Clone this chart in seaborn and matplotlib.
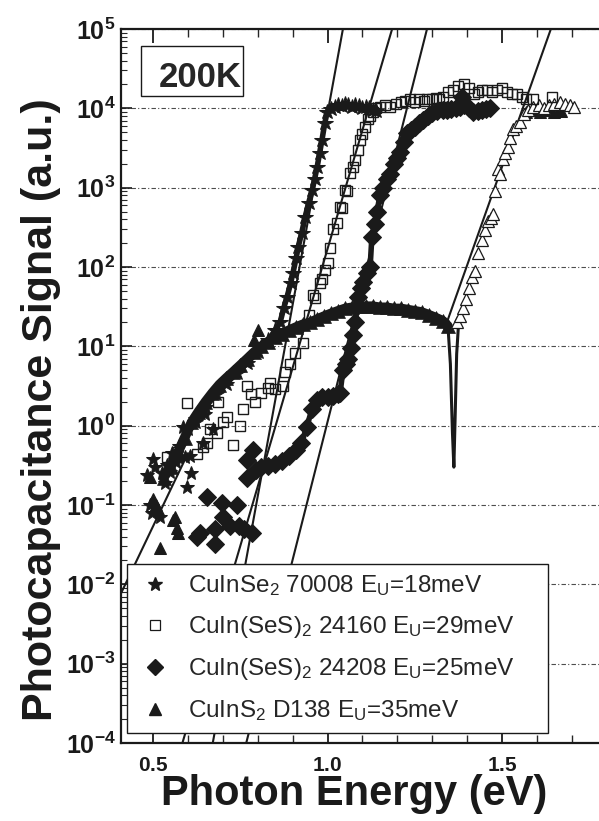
import numpy as np
import pandas as pd
import matplotlib
matplotlib.use("Agg")
import matplotlib.pyplot as plt
from matplotlib.lines import Line2D
from matplotlib.patches import Rectangle
from matplotlib.ticker import (MultipleLocator, LogLocator, FixedLocator, FuncFormatter,
                               NullFormatter)
import seaborn as sns

# ---------------- data ----------------
# CuInSe2 70008 (stars): scattered sub-gap points and the dense absorption edge
se_tail_E = [0.483, 0.490, 0.497, 0.500, 0.505, 0.520, 0.525, 0.534, 0.540, 0.549, 0.555, 0.565,
             0.575, 0.586, 0.590, 0.597, 0.600, 0.606, 0.610, 0.620, 0.643, 0.650, 0.672]
se_tail_S = [0.24, 0.10, 0.08, 0.38, 0.30, 0.07, 0.25, 0.19, 0.32, 0.26, 0.45, 0.35,
             0.55, 0.97, 0.40, 0.17, 0.90, 0.42, 0.25, 1.2, 0.60, 1.4, 0.90]
se_edge_E = [0.62, 0.65, 0.68, 0.71, 0.74, 0.77, 0.80, 0.83, 0.85, 0.864, 0.874, 0.884, 0.894,
             0.901, 0.910, 0.916, 0.926, 0.936, 0.946, 0.956, 0.963, 0.970, 0.977, 0.984, 0.992,
             0.999, 1.01, 1.02, 1.03, 1.04, 1.05, 1.06, 1.07, 1.08, 1.09, 1.10, 1.11, 1.12, 1.13, 1.14]
se_edge_S = [1.1, 1.7, 2.5, 3.4, 4.6, 6.2, 8.5, 12, 16, 20, 30, 42, 62,
             85, 130, 180, 270, 430, 650, 930, 1300, 1800, 2700, 4000, 6500,
             9000, 9800, 1.05e4, 1.1e4, 1.08e4, 1.12e4, 1.1e4, 1.05e4, 1.1e4, 1.06e4, 1.0e4,
             1.04e4, 1.0e4, 9.6e3, 9.3e3]

# CuIn(SeS)2 24160 (open squares)
sq_E = [0.540, 0.569, 0.597, 0.626, 0.643, 0.655, 0.663, 0.683, 0.686, 0.700,
        0.712, 0.730, 0.750, 0.758, 0.769, 0.780, 0.792, 0.810, 0.830, 0.835,
        0.850, 0.873, 0.878, 0.893, 0.907, 0.930, 0.948, 0.958, 0.964, 0.978,
        0.984, 0.993, 1.000, 1.007, 1.016, 1.027, 1.036, 1.041, 1.050, 1.056,
        1.064, 1.072, 1.079, 1.086, 1.093, 1.100, 1.107, 1.116, 1.123, 1.130,
        1.140, 1.150, 1.165, 1.180, 1.195, 1.210, 1.223, 1.236, 1.250, 1.262,
        1.275, 1.285, 1.298, 1.310, 1.320, 1.332, 1.345, 1.360, 1.375, 1.390,
        1.405, 1.420, 1.430, 1.444, 1.457, 1.472, 1.486, 1.500, 1.514, 1.528,
        1.543, 1.557, 1.570, 1.589, 1.643]
sq_S = [0.40, 0.46, 1.95, 0.44, 0.54, 0.60, 0.90, 0.80, 2.0, 1.1,
        1.3, 0.57, 1.0, 1.6, 3.2, 2.5, 2.0, 2.6, 3.0, 3.5,
        2.9, 3.2, 4.7, 6.0, 8.3, 11, 25, 45, 41, 63,
        70, 91, 112, 174, 300, 363, 575, 560, 930, 900,
        1550, 1800, 2240, 3000, 4000, 4800, 5750, 7250, 8000, 9100,
        1.0e4, 1.05e4, 1.1e4, 1.05e4, 1.15e4, 1.2e4, 1.25e4, 1.3e4, 1.2e4, 1.3e4,
        1.25e4, 1.3e4, 1.3e4, 1.35e4, 1.3e4, 1.4e4, 1.6e4, 1.7e4, 1.9e4, 2.0e4,
        1.8e4, 1.5e4, 1.6e4, 1.7e4, 1.7e4, 1.6e4, 1.7e4, 1.8e4, 1.6e4, 1.5e4,
        1.5e4, 1.4e4, 1.3e4, 1.3e4, 1.4e4]

# CuIn(SeS)2 24208 (filled diamonds)
sd_tail_E = [0.626, 0.635, 0.655, 0.678, 0.678, 0.698, 0.700, 0.720, 0.740, 0.745,
             0.760, 0.769, 0.769, 0.784, 0.787]
sd_tail_S = [0.040, 0.045, 0.126, 0.050, 0.032, 0.107, 0.070, 0.055, 0.100, 0.055,
             0.050, 0.37, 0.22, 0.045, 0.50]
sd_edge_E = [0.795, 0.81, 0.83, 0.85, 0.87, 0.89, 0.91, 0.925, 0.94, 0.955,
             0.97, 0.985, 1.00, 1.015, 1.03, 1.036, 1.044, 1.052, 1.059, 1.066,
             1.073, 1.080, 1.087, 1.095, 1.102, 1.112, 1.122, 1.127, 1.135, 1.142,
             1.150, 1.160, 1.170, 1.180, 1.190, 1.200, 1.208, 1.218, 1.228, 1.240,
             1.250, 1.262, 1.274, 1.287, 1.300, 1.315, 1.330, 1.342, 1.355, 1.368,
             1.380, 1.385, 1.392, 1.405, 1.417, 1.430, 1.443, 1.455, 1.466]
sd_edge_S = [0.28, 0.30, 0.31, 0.33, 0.36, 0.42, 0.50, 0.60, 0.95, 1.6,
             2.1, 2.3, 2.3, 2.4, 2.5, 2.6, 5.0, 6.0, 7.0, 9.5,
             14, 20, 42, 55, 65, 85, 100, 240, 350, 500,
             800, 1000, 1300, 1500, 2000, 2400, 2800, 3800, 4900, 5300,
             5800, 6500, 7200, 8000, 8700, 9200, 9500, 9600, 9800, 1.0e4,
             1.05e4, 1.4e4, 1.1e4, 1.0e4, 9100, 9300, 9500, 9800, 1.0e4]

# CuInS2 D138 (triangles)
ts_tail_E = [0.491, 0.500, 0.508, 0.515, 0.520, 0.557, 0.563, 0.569, 0.572, 0.790, 0.800]
ts_tail_S = [0.226, 0.12, 0.10, 0.09, 0.029, 0.065, 0.07, 0.052, 0.045, 12, 16]
ts_band_E = [0.53, 0.55, 0.57, 0.59, 0.61, 0.63, 0.65, 0.67, 0.69, 0.71,
             0.73, 0.75, 0.77, 0.79, 0.81, 0.83, 0.85, 0.87, 0.89, 0.91,
             0.93, 0.95, 0.97, 0.99, 1.01, 1.03, 1.05, 1.07, 1.09, 1.11,
             1.13, 1.15, 1.17, 1.19, 1.21, 1.23, 1.25, 1.27, 1.29, 1.31, 1.33,
             1.345]
ts_band_S = [0.22, 0.30, 0.45, 0.70, 1.1, 1.5, 2.0, 2.6, 3.3, 4.0,
             4.8, 5.8, 7.0, 8.5, 10, 11.5, 13, 14.5, 16, 17.5,
             19, 20, 22, 24, 26, 28, 30, 31, 32, 32,
             32, 31, 31, 30, 30, 29, 28, 27, 25, 23, 21,
             18]
# narrow dip in the CuInS2 signal near 1.36 eV
ts_dip_E = [1.345, 1.352, 1.358, 1.362, 1.366, 1.370, 1.375]
ts_dip_S = [18, 6, 0.8, 0.3, 1.5, 8, 18]
to_E = [1.372, 1.380, 1.388, 1.396, 1.404, 1.414, 1.422, 1.432, 1.442, 1.451,
        1.460, 1.467, 1.474, 1.481, 1.488, 1.495, 1.502, 1.509, 1.516, 1.524,
        1.531, 1.540, 1.552, 1.562, 1.575, 1.590, 1.605, 1.620, 1.635, 1.650,
        1.665, 1.680, 1.695, 1.705]
to_S = [20, 24, 30, 40, 55, 75, 90, 150, 220, 295,
        380, 420, 470, 900, 1700, 1500, 2300, 2700, 3300, 4200,
        5500, 6000, 6800, 8500, 9500, 1.05e4, 1.1e4, 1.0e4, 1.1e4, 1.15e4,
        1.2e4, 1.15e4, 1.1e4, 1.05e4]
tp_E = [1.57, 1.59, 1.61, 1.63, 1.65, 1.67]
tp_S = [9000, 9500, 9000, 9500, 9000, 9200]

# Urbach-edge fits: S = 1e5 * exp((E - E_top) / E_U)
series_labels = [r"CuInSe$_2$ 70008 E$_\mathrm{U}$=18meV",
                 r"CuIn(SeS)$_2$ 24160 E$_\mathrm{U}$=29meV",
                 r"CuIn(SeS)$_2$ 24208 E$_\mathrm{U}$=25meV",
                 r"CuInS$_2$ D138 E$_\mathrm{U}$=35meV"]
EU_meV = [18, 29, 25, 35]
fit_E_top = [1.044, 1.185, 1.285, 1.640]
fit_E_start = [0.65, 0.57, 0.75, 1.335]

# straight sub-gap guide line
tail_fit_E = [0.40, 0.60]
tail_fit_S = [6.5e-3, 0.45]

# axis ticks
x_major_ticks = [0.5, 1.0, 1.5]
y_decades = list(range(-4, 6))

# ---------------- style ----------------
sns.set_theme(style="ticks")
plt.rcParams["font.family"] = ["Liberation Sans", "DejaVu Sans"]
plt.rcParams["mathtext.fontset"] = "custom"
plt.rcParams["mathtext.rm"] = "Liberation Sans"
plt.rcParams["mathtext.it"] = "Liberation Sans:italic"
plt.rcParams["mathtext.bf"] = "Liberation Sans:bold"

W, H = 599, 821
fig = plt.figure(figsize=(W / 100, H / 100), dpi=100)
x_left_px, x_right_px = 121, 606.7
y_top_px, y_bot_px = 29, 743
ax_w_px = x_right_px - x_left_px
ax_h_px = y_bot_px - y_top_px
ax = fig.add_axes([x_left_px / W, (H - y_bot_px) / H, ax_w_px / W, ax_h_px / H])
ax.set_facecolor("white")


def pts(E, S, ax, **kw):
    df = pd.DataFrame({"E": E, "S": S})
    sns.lineplot(data=df, x="E", y="S", ax=ax, estimator=None, sort=False,
                 errorbar=None, legend=False, **kw)


# fit lines
for eu, etop, estart in zip(EU_meV, fit_E_top, fit_E_start):
    E = np.array([estart, etop + 0.03])
    S = 1e5 * np.exp((E - etop) / (eu * 1e-3))
    pts(E, S, ax, color="k", lw=1.5, zorder=2)
pts(tail_fit_E, tail_fit_S, ax, color="k", lw=1.5, zorder=2)

# CuInS2 triangles
pts(ts_band_E, ts_band_S, ax, color="k", lw=7, marker="^", ms=10.5, mec="k", mew=0.5, zorder=3)
pts(ts_dip_E, ts_dip_S, ax, color="k", lw=2.2, zorder=3)
pts(ts_tail_E, ts_tail_S, ax, color="k", ls="none", marker="^", ms=9, mec="k", zorder=3)
pts(tp_E, tp_S, ax, color="k", lw=3.5, marker="^", ms=8, mec="k", zorder=3)
pts(to_E, to_S, ax, color="k", ls="none", marker="^", ms=8, mfc="white", mec="k", mew=0.9, zorder=4)

# CuInSe2 stars
pts(se_edge_E, se_edge_S, ax, color="k", lw=4, marker="*", ms=11.5, mec="k", zorder=4)
pts(se_tail_E, se_tail_S, ax, color="k", ls="none", marker="*", ms=10, mec="k", zorder=4)

# CuIn(SeS)2 24208 diamonds
pts(sd_edge_E, sd_edge_S, ax, color="k", lw=4, marker="D", ms=9.5, mec="k", zorder=3)
pts(sd_tail_E, sd_tail_S, ax, color="k", ls="none", marker="D", ms=9.5, mec="k", zorder=3)

# CuIn(SeS)2 24160 open squares
pts(sq_E, sq_S, ax, color="k", ls="none", marker="s", ms=7.2, mfc="none", mec="k", mew=1.0, zorder=5)

# ---------------- axes ----------------
ax.set_yscale("log")
ax.set_ylim(1e-4, 1e5)
ax.set_xlim(0.408, 0.5 + (x_right_px - 153) / 349)

ax.xaxis.set_major_locator(FixedLocator(x_major_ticks))
ax.xaxis.set_minor_locator(MultipleLocator(0.1))
ax.xaxis.set_major_formatter(FuncFormatter(lambda v, p: r"$\mathbf{%.1f}$" % v))
ax.yaxis.set_major_locator(FixedLocator([10.0 ** d for d in y_decades]))
ax.yaxis.set_minor_locator(LogLocator(base=10, subs=np.arange(2, 10), numticks=20))
ax.yaxis.set_minor_formatter(NullFormatter())
ax.yaxis.set_major_formatter(FuncFormatter(
    lambda v, p: r"$\mathbf{10^{%d}}$" % int(round(np.log10(v)))))

ax.tick_params(axis="x", which="major", direction="in", length=10, width=1.3,
               top=True, labelsize=15, pad=9, colors="k")
ax.tick_params(axis="x", which="minor", direction="in", length=6, width=1.0, top=True)
ax.tick_params(axis="y", which="major", direction="in", length=8, width=1.2,
               right=False, labelsize=18, pad=4, colors="k")
ax.tick_params(axis="y", which="minor", direction="in", length=4, width=0.8, right=False)

for s in ax.spines.values():
    s.set_linewidth(1.6)
    s.set_color("k")

ax.yaxis.grid(True, which="major", color="0.3", lw=0.8, ls=(0, (4, 2, 1, 2)), zorder=0)
ax.set_axisbelow(True)

# axis titles
ax.set_xlabel("Photon Energy (eV)", fontsize=30, fontweight="bold", color="k")
ax.xaxis.set_label_coords((354 - x_left_px) / ax_w_px, (y_bot_px - 774) / ax_h_px)
ax.set_ylabel("Photocapacitance Signal (a.u.)", fontsize=31, fontweight="bold", color="k")
ax.yaxis.set_label_coords((61 - x_left_px) / ax_w_px, (y_bot_px - 410) / ax_h_px)

# temperature tag
fig.patches.append(Rectangle((141 / W, 1 - 96 / H), 102 / W, 50 / H, fill=False,
                             lw=1.0, ec="k", transform=fig.transFigure, figure=fig))
fig.text(200 / W, 1 - 87 / H, "200K", fontsize=25, fontweight="bold", ha="center", va="baseline")

# legend
handles = [Line2D([], [], ls="none", marker="*", ms=10, color="k"),
           Line2D([], [], ls="none", marker="s", ms=7.5, mfc="white", mec="k", mew=0.9),
           Line2D([], [], ls="none", marker="D", ms=8, color="k"),
           Line2D([], [], ls="none", marker="^", ms=9, color="k")]
leg = ax.legend(handles, series_labels, loc="lower left",
                bbox_to_anchor=(127 / W, (H - 733) / H, 421 / W, 168 / H),
                bbox_transform=fig.transFigure, mode="expand", frameon=True,
                fancybox=False, edgecolor="k", framealpha=1, borderaxespad=0,
                handlelength=1.5, handletextpad=0.6, labelspacing=0.66, borderpad=0.4,
                fontsize=17.5)
leg.get_frame().set_linewidth(1.0)
leg.set_zorder(10)

fig.savefig("out.png", dpi=100, facecolor="white")
